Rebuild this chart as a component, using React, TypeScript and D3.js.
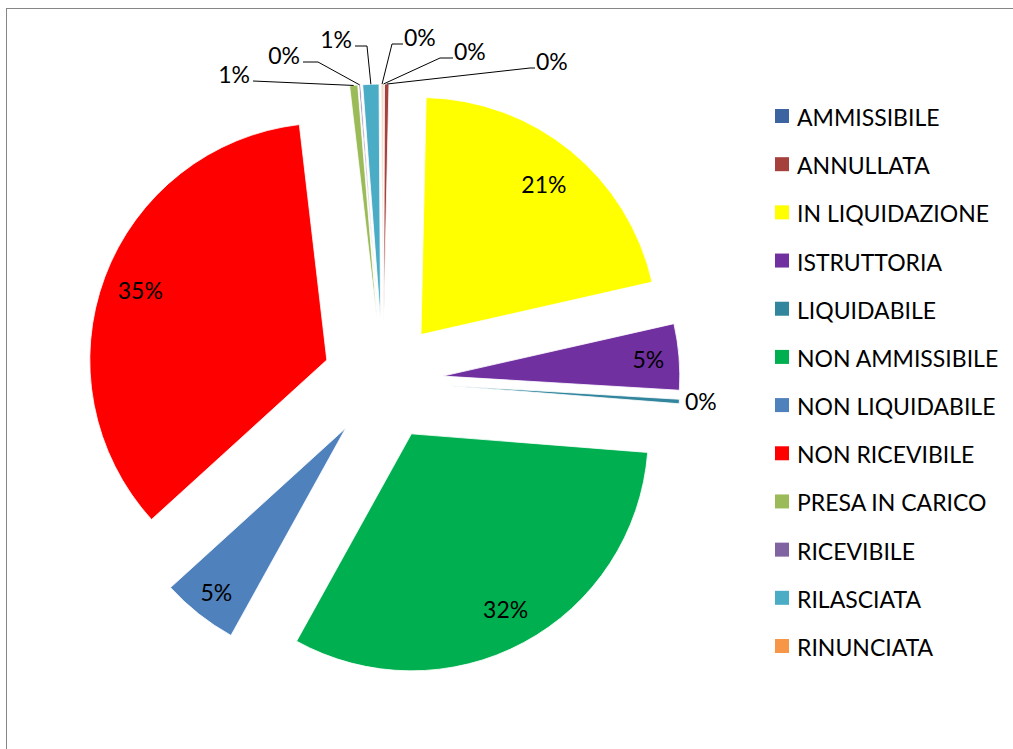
import React from "react";
import * as d3 from "d3";

// Stato pratiche (quote in percentuale)
const categories = [
  "AMMISSIBILE",
  "ANNULLATA",
  "IN LIQUIDAZIONE",
  "ISTRUTTORIA",
  "LIQUIDABILE",
  "NON AMMISSIBILE",
  "NON LIQUIDABILE",
  "NON RICEVIBILE",
  "PRESA IN CARICO",
  "RICEVIBILE",
  "RILASCIATA",
  "RINUNCIATA",
];
const values = [0.05, 0.3, 21.1, 4.5, 0.3, 31.8, 5.2, 34.9, 0.55, 0.1, 1.1, 0.1];
const colors = [
  "#3B64A0",
  "#A5403D",
  "#FFFF00",
  "#7030A0",
  "#31859C",
  "#00B050",
  "#4F81BD",
  "#FF0000",
  "#9BBB59",
  "#8064A2",
  "#4BACC6",
  "#F79646",
];

const W = 1013;
const H = 749;
const cx = 383;
const cy = 381;
const radius = 237;
const explode = 60;
const font = "Lato, 'Open Sans', sans-serif";
const fs = 23;

// label radius (fraction of radius) for labels drawn inside the slice
const insideFactor: Record<string, number> = {
  "IN LIQUIDAZIONE": 0.82,
  ISTRUTTORIA: 0.87,
  "NON AMMISSIBILE": 0.84,
  "NON LIQUIDABILE": 0.88,
  "NON RICEVIBILE": 0.84,
};

// manually placed labels for the thin slices (elbow, end of leader, text side)
const outside: Record<string, { ex: number; ey: number; x2: number; side: "l" | "r" | "n" }> = {
  "PRESA IN CARICO": { ex: 253, ey: 81, x2: 253, side: "l" },
  RICEVIBILE: { ex: 318, ey: 62, x2: 303, side: "l" },
  RILASCIATA: { ex: 367, ey: 46, x2: 355, side: "l" },
  RINUNCIATA: { ex: 392, ey: 44, x2: 403, side: "r" },
  AMMISSIBILE: { ex: 440, ey: 58, x2: 453, side: "r" },
  ANNULLATA: { ex: 530, ey: 68, x2: 535, side: "r" },
  LIQUIDABILE: { ex: 684, ey: 408, x2: 684, side: "n" },
};

const App = () => {
  const total = d3.sum(values);
  const pie = d3
    .pie<number>()
    .sort(null)
    .value((d) => d);
  const arcs = pie(values);
  const arc = d3.arc<d3.PieArcDatum<number>>().innerRadius(0).outerRadius(radius);

  const legendY = d3
    .scalePoint<string>()
    .domain(categories)
    .range([116, 646]);

  return (
    <svg
      width={W}
      height={H}
      style={{ position: "absolute", left: 0, top: 0, background: "#fff" }}
      fontFamily={font}
    >
      <rect x={6.5} y={8.5} width={W + 20} height={H + 20} fill="#fff" stroke="#868686" />

      {arcs.map((a, i) => {
        const mid = (a.startAngle + a.endAngle) / 2;
        const ox = cx + explode * Math.sin(mid);
        const oy = cy - explode * Math.cos(mid);
        return (
          <path
            key={categories[i]}
            d={arc(a) || ""}
            transform={`translate(${ox},${oy})`}
            fill={colors[i]}
            stroke="#fff"
            strokeWidth={0.8}
          />
        );
      })}

      {arcs.map((a, i) => {
        const cat = categories[i];
        const mid = (a.startAngle + a.endAngle) / 2;
        const ox = cx + explode * Math.sin(mid);
        const oy = cy - explode * Math.cos(mid);
        const pct = `${Math.round((values[i] / total) * 100)}%`;
        if (insideFactor[cat] !== undefined) {
          const r = radius * insideFactor[cat];
          return (
            <text
              key={cat}
              x={ox + r * Math.sin(mid)}
              y={oy - r * Math.cos(mid)}
              textAnchor="middle"
              dominantBaseline="central"
              fontSize={fs}
              fill="#000"
            >
              {pct}
            </text>
          );
        }
        const o = outside[cat];
        const px = ox + radius * Math.sin(mid);
        const py = oy - radius * Math.cos(mid);
        const line = d3.line()([
          [px, py],
          [o.ex, o.ey],
          [o.x2, o.ey],
        ]);
        const tx = o.side === "l" ? o.x2 - 3 : o.x2 + 1;
        return (
          <g key={cat}>
            {o.side !== "n" && <path d={line || ""} fill="none" stroke="#000" strokeWidth={1} />}
            <text
              x={tx}
              y={o.ey - 7}
              textAnchor={o.side === "l" ? "end" : "start"}
              dominantBaseline="central"
              fontSize={fs}
              fill="#000"
            >
              {pct}
            </text>
          </g>
        );
      })}

      {categories.map((c, i) => (
        <g key={c} transform={`translate(775,${legendY(c)})`}>
          <rect x={0} y={-7} width={14} height={14} fill={colors[i]} />
          <text x={22} y={1} dominantBaseline="central" fontSize={fs} fill="#000">
            {c}
          </text>
        </g>
      ))}
    </svg>
  );
};

export default App;
